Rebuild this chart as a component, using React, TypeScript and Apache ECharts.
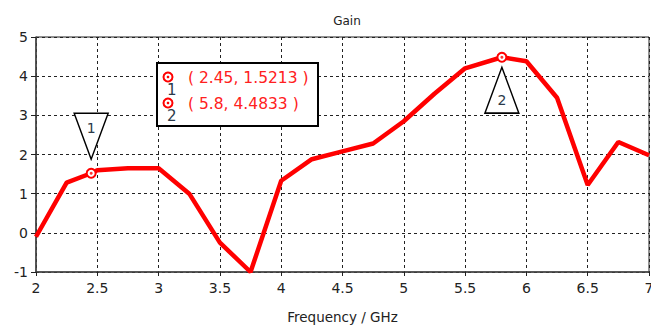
import React, { useEffect, useRef } from "react";
import * as echarts from "echarts";

const freq = [2.0, 2.25, 2.45, 2.5, 2.75, 3.0, 3.25, 3.5, 3.75, 4.0, 4.25, 4.5, 4.75, 5.0, 5.25, 5.5, 5.8, 6.0, 6.25, 6.5, 6.75, 7.0];
const gain = [-0.1, 1.28, 1.5213, 1.6, 1.65, 1.65, 1.0, -0.25, -1.0, 1.33, 1.88, 2.08, 2.28, 2.85, 3.55, 4.2, 4.4833, 4.38, 3.45, 1.22, 2.32, 1.98];
const markerIds = ["1", "2"];
const markerX = [2.45, 5.8];
const markerY = [1.5213, 4.4833];
const xTicks = [2, 2.5, 3, 3.5, 4, 4.5, 5, 5.5, 6, 6.5, 7];
const yTicks = [-1, 0, 1, 2, 3, 4, 5];

const FONT = "DejaVu Sans";

export default function App() {
  const ref = useRef<HTMLDivElement>(null);
  useEffect(() => {
    if (!ref.current) return;
    const chart = echarts.init(ref.current, undefined, { renderer: "svg" });
    const lineData = freq.map((f, i) => [f, gain[i]]);
    const mk = markerX.map((x, i) => [x, markerY[i]]);
    const legendChildren: any[] = [
      {
        type: "rect",
        z: 100,
        shape: { x: 157, y: 63, width: 161, height: 63 },
        style: { fill: "#fff", stroke: "#000", lineWidth: 2 },
      },
    ];
    markerIds.forEach((id, i) => {
      const cy = 77 + i * 26;
      legendChildren.push(
        { type: "circle", z: 101, shape: { cx: 168, cy, r: 4.5 }, style: { fill: "#fff", stroke: "#ff0000", lineWidth: 2 } },
        { type: "circle", z: 102, shape: { cx: 168, cy, r: 1.3 }, style: { fill: "#ff0000" } },
        { type: "text", z: 102, x: 167, y: cy + 13, style: { text: id, fill: "#2b3a4a", font: `15px ${FONT}`, textAlign: "left", textVerticalAlign: "middle" } },
        {
          type: "text",
          z: 102,
          x: 188,
          y: cy + 1,
          style: { text: `( ${markerX[i]}, ${markerY[i]} )`, fill: "#ff2020", font: `15.5px ${FONT}`, textAlign: "left", textVerticalAlign: "middle" },
        }
      );
    });
    chart.setOption({
      animation: false,
      backgroundColor: "#fff",
      title: {
        text: "Gain",
        left: 342,
        top: 10,
        textAlign: "center",
        textStyle: { fontFamily: FONT, fontSize: 12, fontWeight: "normal", color: "#222" },
      },
      grid: { left: 36, right: 2, top: 37, bottom: 57, show: true, borderColor: "#222", borderWidth: 1, containLabel: false, outerBoundsMode: "none" },
      xAxis: {
        type: "value",
        min: 2,
        max: 7,
        interval: 0.5,
        name: "Frequency / GHz",
        nameLocation: "middle",
        nameGap: 38,
        nameTextStyle: { fontFamily: FONT, fontSize: 13.5, color: "#222" },
        axisLine: { onZero: false, lineStyle: { color: "#444", width: 1.5 } },
        axisTick: { show: true, length: 4, lineStyle: { color: "#222" } },
        axisLabel: { fontFamily: FONT, fontSize: 14, color: "#222", margin: 9, hideOverlap: false, formatter: (v: number) => (xTicks.includes(v) ? String(v) : "") },
        splitLine: { show: true, lineStyle: { type: [3, 3], color: "#222", width: 1 } },
      },
      yAxis: {
        type: "value",
        min: -1,
        max: 5,
        interval: 1,
        axisLine: { show: true, onZero: false, lineStyle: { color: "#444", width: 1.5 } },
        axisTick: { show: true, length: 5, lineStyle: { color: "#222" } },
        axisLabel: { fontFamily: FONT, fontSize: 14, color: "#222", margin: 8, formatter: (v: number) => (yTicks.includes(v) ? String(v) : "") },
        splitLine: { show: true, lineStyle: { type: [3, 3], color: "#222", width: 1 } },
      },
      series: [
        {
          type: "line",
          data: lineData,
          symbol: "none",
          lineStyle: { color: "#ff0000", width: 4.5 },
          z: 3,
          markPoint: {
            silent: true,
            data: [
              {
                coord: mk[0],
                symbol: "triangle",
                symbolRotate: 180,
                symbolSize: [34, 46],
                symbolOffset: [0, -37],
                itemStyle: { color: "#fff", borderColor: "#000", borderWidth: 1.5 },
                label: { show: true, position: "inside", formatter: markerIds[0], offset: [0, -8], color: "#2b3a4a", fontFamily: FONT, fontSize: 14 },
              },
              {
                coord: mk[1],
                symbol: "triangle",
                symbolSize: [34, 46],
                symbolOffset: [0, 33],
                itemStyle: { color: "#fff", borderColor: "#000", borderWidth: 1.5 },
                label: { show: true, position: "inside", formatter: markerIds[1], offset: [0, 10], color: "#2b3a4a", fontFamily: FONT, fontSize: 14 },
              },
            ],
          },
        },
        {
          type: "scatter",
          data: mk,
          symbol: "circle",
          symbolSize: 9,
          itemStyle: { color: "#fff", borderColor: "#ff0000", borderWidth: 2, opacity: 1 },
          z: 4,
        },
        {
          type: "scatter",
          data: mk,
          symbol: "circle",
          symbolSize: 3,
          itemStyle: { color: "#ff0000" },
          z: 5,
        },
      ],
      graphic: [{ type: "group", children: legendChildren, z: 100 }],
    });
    return () => chart.dispose();
  }, []);
  return <div ref={ref} style={{ width: 651, height: 329, position: "absolute", left: 0, top: 0 }} />;
}
